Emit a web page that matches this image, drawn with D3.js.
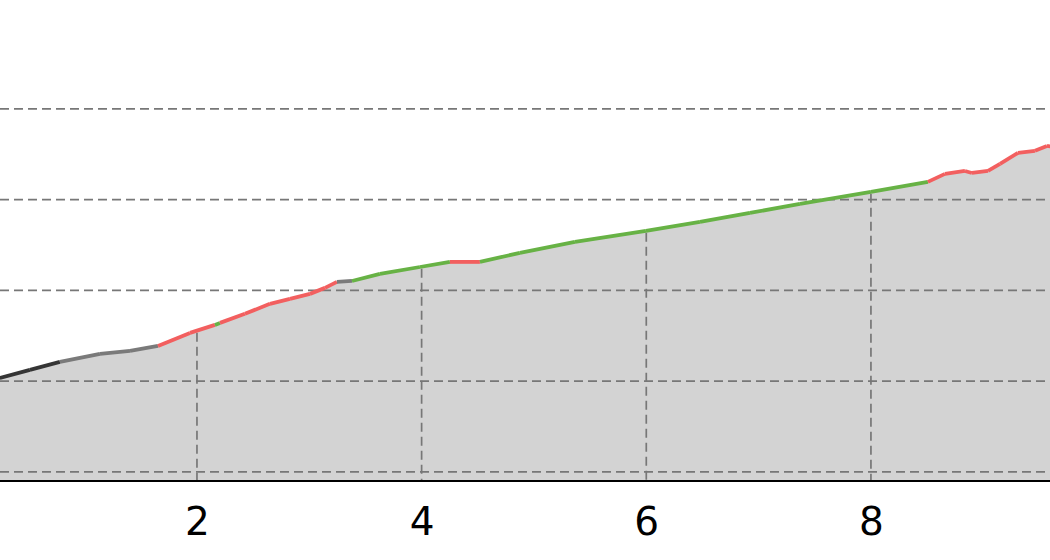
<!DOCTYPE html>
<html>
<head>
<meta charset="utf-8">
<script src="https://cdn.jsdelivr.net/npm/d3@7"></script>
<style>
html,body{margin:0;padding:0;background:#fff;}
svg{display:block;}
</style>
</head>
<body>
<script>
// distance (km)
const distance = [0.20,0.246,0.513,0.780,1.137,1.404,1.653,1.938,2.160,2.205,2.427,2.650,2.828,3.006,3.140,3.246,3.380,3.629,3.985,4.252,4.519,4.875,5.365,5.997,6.478,6.923,7.368,8.000,8.507,8.659,8.837,8.899,9.042,9.149,9.309,9.460,9.567,9.65];
// elevation (m)
const elevation = [51.0,51.8,56.2,60.6,65.0,66.7,69.4,76.6,81.0,82.1,87.1,92.6,95.3,98.1,101.4,104.7,105.2,109.1,112.9,115.7,115.7,120.7,126.7,132.8,137.7,142.7,147.7,154.3,159.8,164.2,165.8,164.7,165.8,169.7,175.8,176.9,179.6,178.8];
// class of the segment that starts at each point
const segClass = ["dark","dark","dark","gray","gray","gray","red","red","green","red","red","red","red","red","red","gray","green","green","green","red","green","green","green","green","green","green","green","green","red","red","red","red","red","red","red","red","red"];
const classColor = {dark:"#353535", gray:"#7a7a7a", red:"#f25f5f", green:"#67b245"};
const xTicks = [2,4,6,8];
const yGrid = [0,50,100,150,200];

const W = 1050, H = 560;
const svg = d3.select("body").append("svg").attr("width",W).attr("height",H);

const x = d3.scaleLinear().domain([0,10]).range([-27.7,1095.6]);
const y = d3.scaleLinear().domain([-5,260]).range([481,0]);
const axisY = y(-5);

const pts = distance.map((d,i)=>({d, e:elevation[i]}));

svg.append("defs").append("clipPath").attr("id","clip")
  .append("rect").attr("x",0).attr("y",0).attr("width",W).attr("height",axisY);

const g = svg.append("g").attr("clip-path","url(#clip)");

// area
g.append("path")
  .datum(pts)
  .attr("fill","#d3d3d3")
  .attr("d", d3.area().x(p=>x(p.d)).y0(axisY).y1(p=>y(p.e)));

// horizontal gridlines
g.selectAll("line.hg").data(yGrid).enter().append("line")
  .attr("class","hg")
  .attr("x1",0).attr("x2",W)
  .attr("y1",v=>y(v)).attr("y2",v=>y(v))
  .attr("stroke","#777").attr("stroke-width",1.7)
  .attr("stroke-dasharray","9,5");

// vertical gridlines up to the profile
const elevAt = d3.scaleLinear().domain(distance).range(elevation);
g.selectAll("line.vg").data(xTicks).enter().append("line")
  .attr("class","vg")
  .attr("x1",v=>x(v)).attr("x2",v=>x(v))
  .attr("y1",v=>y(elevAt(v))+2).attr("y2",axisY+2)
  .attr("stroke","#777").attr("stroke-width",1.7)
  .attr("stroke-dasharray","9,5");

// coloured profile segments
const segs = [];
for(let i=0;i<pts.length-1;i++) segs.push({a:pts[i], b:pts[i+1], c:segClass[i]});
const line = d3.line().x(p=>x(p.d)).y(p=>y(p.e));
g.selectAll("path.seg").data(segs).enter().append("path")
  .attr("class","seg")
  .attr("d", s=>line([s.a,s.b]))
  .attr("fill","none")
  .attr("stroke", s=>classColor[s.c])
  .attr("stroke-width",3.8)
  .attr("stroke-linecap","butt")
  .attr("stroke-linejoin","round");

// x axis
const xAxis = d3.axisBottom(x).tickValues(xTicks).tickSize(0).tickPadding(26).tickFormat(d3.format("d"));
const ax = svg.append("g").attr("transform",`translate(0,${axisY})`).call(xAxis);
ax.attr("font-family",null).attr("font-size",null);
ax.select(".domain").remove();
ax.append("line").attr("x1",0).attr("x2",W).attr("y1",0).attr("y2",0)
  .attr("stroke","#000").attr("stroke-width",2.2);
ax.selectAll("text")
  .style("font-family","'DejaVu Sans'")
  .style("font-size","39px")
  .attr("fill","#000");
</script>
</body>
</html>
